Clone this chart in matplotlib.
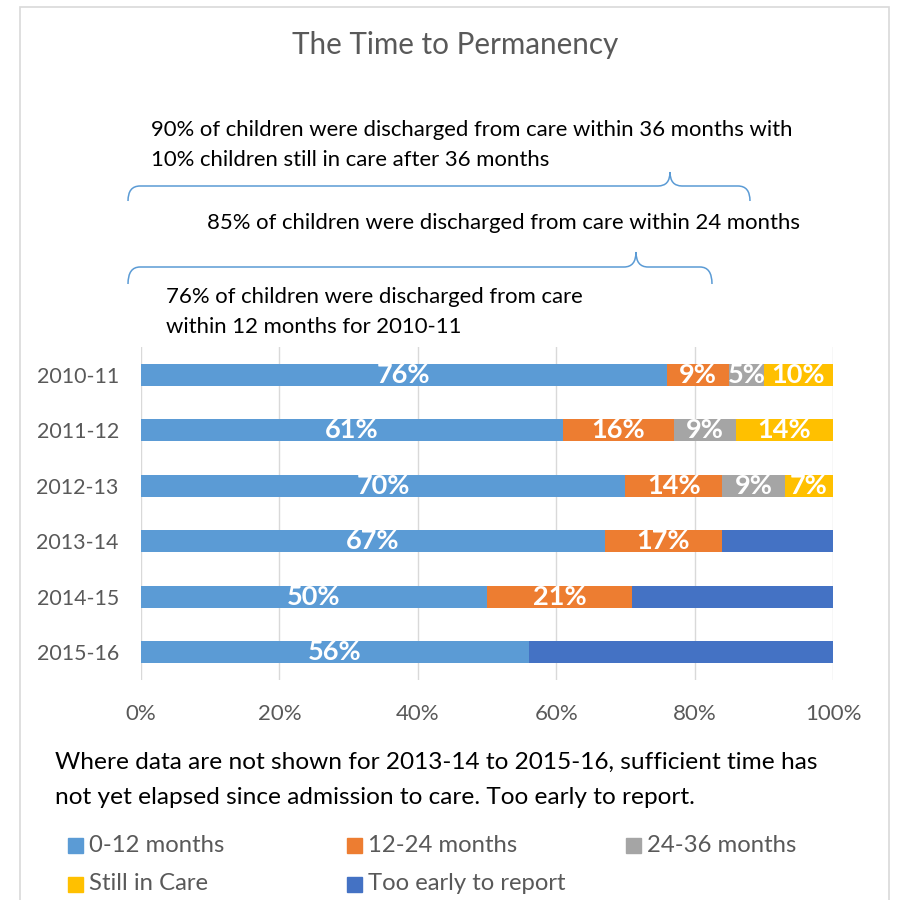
import matplotlib.pyplot as plt
from matplotlib.patches import Rectangle, PathPatch
from matplotlib.path import Path
import numpy as np

years = ["2010-11", "2011-12", "2012-13", "2013-14", "2014-15", "2015-16"]
m0_12 = [76, 61, 70, 67, 50, 56]
m12_24 = [9, 16, 14, 17, 21, 0]
m24_36 = [5, 9, 9, 0, 0, 0]
still_in_care = [10, 14, 7, 0, 0, 0]
too_early = [0, 0, 0, 16, 29, 44]

series_names = ["0-12 months", "12-24 months", "24-36 months", "Still in Care", "Too early to report"]
colors = ["#5B9BD5", "#ED7D31", "#A5A5A5", "#FFC000", "#4472C4"]
xticks = [0, 20, 40, 60, 80, 100]

W, H = 898, 900
FONT = "Lato"
GREY = "#595959"
plt.rcParams['font.family'] = [FONT, 'DejaVu Sans']


def fx(px):
    return px / W


def fy(py):
    return 1 - py / H


fig = plt.figure(figsize=(W / 100, H / 100), dpi=100)
fig.patch.set_facecolor("white")

# outer chart frame
fig.patches.append(Rectangle((fx(20), fy(905)), fx(889) - fx(20), fy(7) - fy(905),
                             transform=fig.transFigure, fill=False,
                             edgecolor="#D9D9D9", linewidth=1.2))

ax = fig.add_axes([fx(141), fy(680), fx(833) - fx(141), fy(347) - fy(680)])

y = np.arange(len(years))
left = np.zeros(len(years))
data = [m0_12, m12_24, m24_36, still_in_care, too_early]
for i, (vals, name, c) in enumerate(zip(data, series_names, colors)):
    vals = np.array(vals, dtype=float)
    bars = ax.barh(y, vals, left=left, height=0.4, color=c, label=name, zorder=3)
    left += vals
    if i < 4:
        labels = [f"{int(v)}%" if v > 0 else "" for v in vals]
        ax.bar_label(bars, labels=labels, label_type="center", color="white",
                     fontsize=19.5, fontweight="bold", zorder=4)

ax.set_xlim(0, 100)
ax.set_ylim(len(years) - 0.5, -0.5)
ax.set_yticks(y)
ax.set_yticklabels(years, fontsize=15.4, color=GREY)
ax.set_xticks(xticks)
ax.set_xticklabels([f"{t}%" for t in xticks], fontsize=16, color=GREY)
ax.tick_params(axis="both", length=0)
ax.tick_params(axis="x", pad=17)
ax.tick_params(axis="y", pad=16)
ax.grid(axis="x", color="#D9D9D9", linewidth=1, zorder=0)
for s in ax.spines.values():
    s.set_visible(False)

fig.text(fx(455), fy(45), "The Time to Permanency", ha="center", va="center",
         fontsize=21.3, color=GREY)

NOTE = 15.9
fig.text(fx(151), fy(130), "90% of children were discharged from care within 36 months with",
         ha="left", va="center", fontsize=NOTE, color="black")
fig.text(fx(151), fy(160), "10% children still in care after 36 months",
         ha="left", va="center", fontsize=NOTE, color="black")
fig.text(fx(207), fy(223), "85% of children were discharged from care within 24 months",
         ha="left", va="center", fontsize=NOTE, color="black")
fig.text(fx(166), fy(297), "76% of children were discharged from care",
         ha="left", va="center", fontsize=NOTE, color="black")
fig.text(fx(166), fy(327), "within 12 months for 2010-11",
         ha="left", va="center", fontsize=NOTE, color="black")


def brace(x0, x1, xt, ytip, yline, yend):
    r = 12
    pts = [(x0, yend), (x0, yline), (x0 + r, yline),
           (xt - r, yline),
           (xt, yline), (xt, ytip),
           (xt, yline), (xt + r, yline),
           (x1 - r, yline),
           (x1, yline), (x1, yend)]
    codes = [Path.MOVETO, Path.CURVE3, Path.CURVE3,
             Path.LINETO,
             Path.CURVE3, Path.CURVE3,
             Path.CURVE3, Path.CURVE3,
             Path.LINETO,
             Path.CURVE3, Path.CURVE3]
    verts = [(fx(a), fy(b)) for a, b in pts]
    fig.patches.append(PathPatch(Path(verts, codes), transform=fig.transFigure,
                                 fill=False, edgecolor="#5B9BD5", linewidth=1.1))


brace(128, 750, 670, 172, 186, 201)
brace(128, 712, 636, 252, 267, 284)

fig.text(fx(55), fy(762), "Where data are not shown for 2013-14 to 2015-16, sufficient time has",
         ha="left", va="center", fontsize=17.6, color="black")
fig.text(fx(55), fy(797), "not yet elapsed since admission to care. Too early to report.",
         ha="left", va="center", fontsize=17.6, color="black")

# legend laid out like the original
leg_pos = [(68, 845), (347, 845), (626, 845), (68, 884), (347, 884)]
for (lx, ly), name, c in zip(leg_pos, series_names, colors):
    fig.patches.append(Rectangle((fx(lx), fy(ly + 7.5)), fx(15), 15 / H,
                                 transform=fig.transFigure, color=c))
    fig.text(fx(lx + 21), fy(ly), name, ha="left", va="center",
             fontsize=17.2, color=GREY)

fig.savefig("out.png", dpi=100)
